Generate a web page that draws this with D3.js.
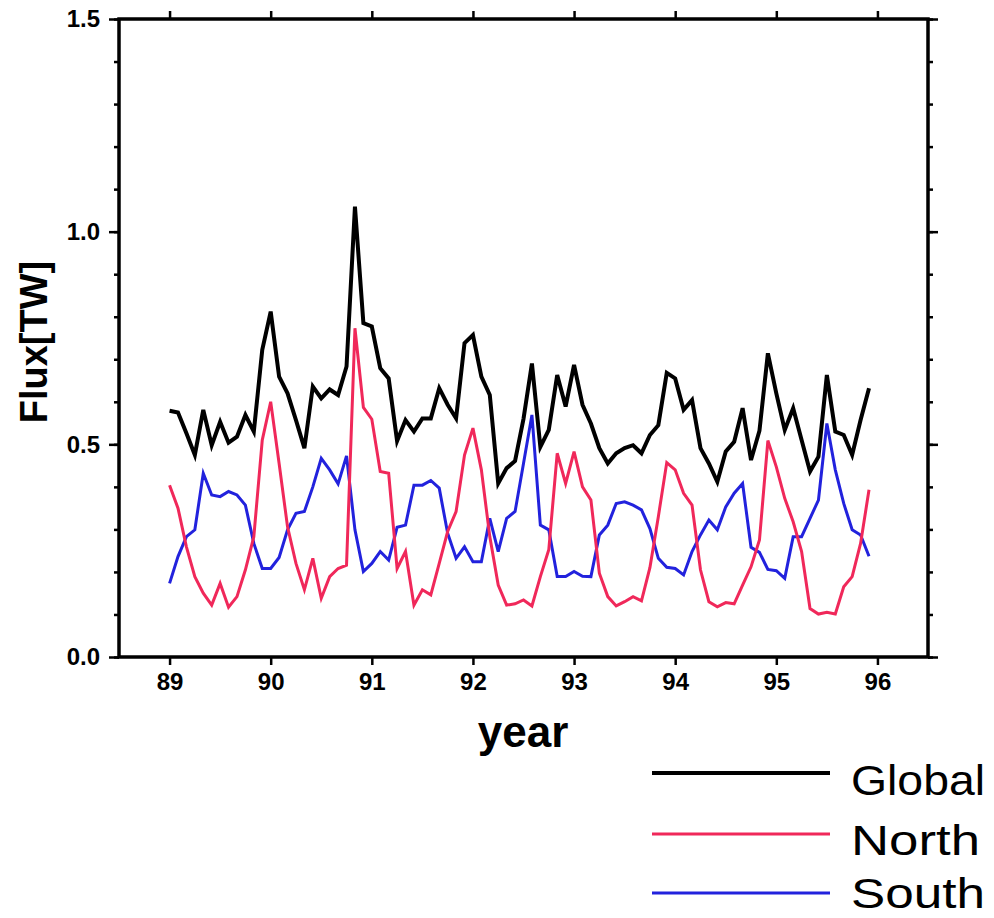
<!DOCTYPE html>
<html><head><meta charset="utf-8">
<script src="https://cdn.jsdelivr.net/npm/d3@7"></script>
<style>body{margin:0;background:#fff}svg{display:block}text{font-family:"Liberation Sans",Arial,Helvetica,sans-serif}</style>
</head><body>
<svg id="c" width="994" height="918"></svg>
<script>
const startYear = 89;
const global = [0.579,0.575,0.526,0.475,0.581,0.498,0.553,0.504,0.518,0.569,0.530,0.722,
0.812,0.659,0.620,0.557,0.491,0.636,0.608,0.629,0.616,0.683,1.059,0.785,
0.777,0.679,0.655,0.508,0.557,0.530,0.561,0.561,0.632,0.593,0.561,0.738,
0.757,0.659,0.616,0.408,0.444,0.461,0.560,0.690,0.494,0.534,0.663,0.589,
0.687,0.593,0.549,0.491,0.455,0.479,0.491,0.498,0.479,0.522,0.545,0.668,
0.655,0.581,0.604,0.491,0.455,0.412,0.483,0.506,0.585,0.463,0.532,0.714,
0.620,0.534,0.585,0.510,0.436,0.471,0.663,0.530,0.522,0.475,0.557,0.632];
const north = [0.404,0.350,0.259,0.189,0.150,0.122,0.173,0.117,0.142,0.205,0.283,0.510,
0.600,0.455,0.306,0.220,0.158,0.232,0.138,0.189,0.208,0.216,0.773,0.587,
0.559,0.436,0.432,0.208,0.248,0.122,0.158,0.146,0.220,0.295,0.342,0.475,
0.538,0.440,0.283,0.169,0.122,0.125,0.134,0.120,0.189,0.252,0.479,0.408,
0.483,0.400,0.369,0.197,0.142,0.120,0.130,0.142,0.132,0.210,0.330,0.457,
0.440,0.385,0.357,0.205,0.130,0.118,0.128,0.125,0.169,0.212,0.275,0.509,
0.447,0.373,0.318,0.248,0.114,0.101,0.105,0.101,0.165,0.189,0.267,0.393];
const south = [0.173,0.236,0.283,0.299,0.432,0.381,0.377,0.389,0.381,0.357,0.267,0.208,
0.208,0.234,0.299,0.338,0.342,0.400,0.467,0.440,0.407,0.473,0.299,0.201,
0.220,0.248,0.228,0.305,0.310,0.404,0.404,0.415,0.397,0.291,0.232,0.259,
0.224,0.224,0.326,0.248,0.326,0.342,0.455,0.569,0.310,0.299,0.189,0.189,
0.201,0.190,0.189,0.287,0.310,0.361,0.365,0.357,0.346,0.302,0.232,0.211,
0.208,0.193,0.248,0.287,0.322,0.299,0.353,0.385,0.408,0.258,0.246,0.206,
0.203,0.185,0.283,0.283,0.326,0.369,0.549,0.440,0.361,0.299,0.287,0.237];
const yearTicks = [89,90,91,92,93,94,95,96];
const yTicks = [0.0,0.5,1.0,1.5];
const seriesNames = ["Global","North","South"];
const seriesColors = ["#000000","#f0285a","#2222dd"];

const svg = d3.select("#c");
const x = d3.scaleLinear().domain([88.5,96.5]).range([119,928]);
const y = d3.scaleLinear().domain([0,1.5]).range([657,19]);

const series = [global, north, south];
const widths = [4, 3, 3];
const line = d3.line().x((d,i)=>x(startYear + i/12)).y(d=>y(d));

[2,1,0].forEach(k=>{
  svg.append("path").datum(series[k]).attr("d", line)
    .attr("fill","none").attr("stroke", seriesColors[k])
    .attr("stroke-width", widths[k]).attr("stroke-linejoin","miter");
});

const minor = d3.range(0,1.51,0.1);
const fmt = d3.format(".1f");
const axL = d3.axisLeft(y).tickValues(yTicks).tickFormat(fmt).tickSize(10).tickPadding(9);
const axLm = d3.axisLeft(y).tickValues(minor).tickFormat("").tickSize(5);
const axR = d3.axisRight(y).tickValues(yTicks).tickFormat("").tickSize(10);
const axRm = d3.axisRight(y).tickValues(minor).tickFormat("").tickSize(5);
const axB = d3.axisBottom(x).tickValues(yearTicks).tickFormat(d=>d).tickSize(8).tickPadding(8);
const axT = d3.axisTop(x).tickValues(yearTicks).tickFormat("").tickSize(8);

function styl(g){
  g.select(".domain").remove();
  g.selectAll("line").attr("stroke","#000").attr("stroke-width",2.5);
  g.selectAll("text").attr("font-size",24).attr("font-weight","bold").attr("fill","#000");
}
svg.append("g").attr("transform","translate(119,0)").call(axLm).call(styl);
svg.append("g").attr("transform","translate(119,0)").call(axL).call(styl);
svg.append("g").attr("transform","translate(928,0)").call(axRm).call(styl);
svg.append("g").attr("transform","translate(928,0)").call(axR).call(styl);
svg.append("g").attr("transform","translate(0,657)").call(axB).call(styl);
svg.append("g").attr("transform","translate(0,19)").call(axT).call(styl);

svg.append("rect").attr("x",119).attr("y",19).attr("width",809).attr("height",638)
  .attr("fill","none").attr("stroke","#000").attr("stroke-width",3.5);

svg.append("text").attr("x",523).attr("y",747).attr("text-anchor","middle")
  .attr("font-size",44).attr("font-weight","bold").text("year");
svg.append("text").attr("transform","translate(47,342) rotate(-90)").attr("text-anchor","middle")
  .attr("font-size",38).attr("font-weight","bold").text("Flux[TW]");

const legY = [773,834,893];
const legBase = [795,855,908];
const legLen = [134,129,134];
seriesNames.forEach((n,k)=>{
  svg.append("line").attr("x1",652).attr("x2",830).attr("y1",legY[k]).attr("y2",legY[k])
    .attr("stroke",seriesColors[k]).attr("stroke-width",k===0?4:3);
  svg.append("text").attr("x",851).attr("y",legBase[k]).attr("font-size",42)
    .attr("textLength",legLen[k]).attr("lengthAdjust","spacingAndGlyphs").text(n);
});
</script>
</body></html>
